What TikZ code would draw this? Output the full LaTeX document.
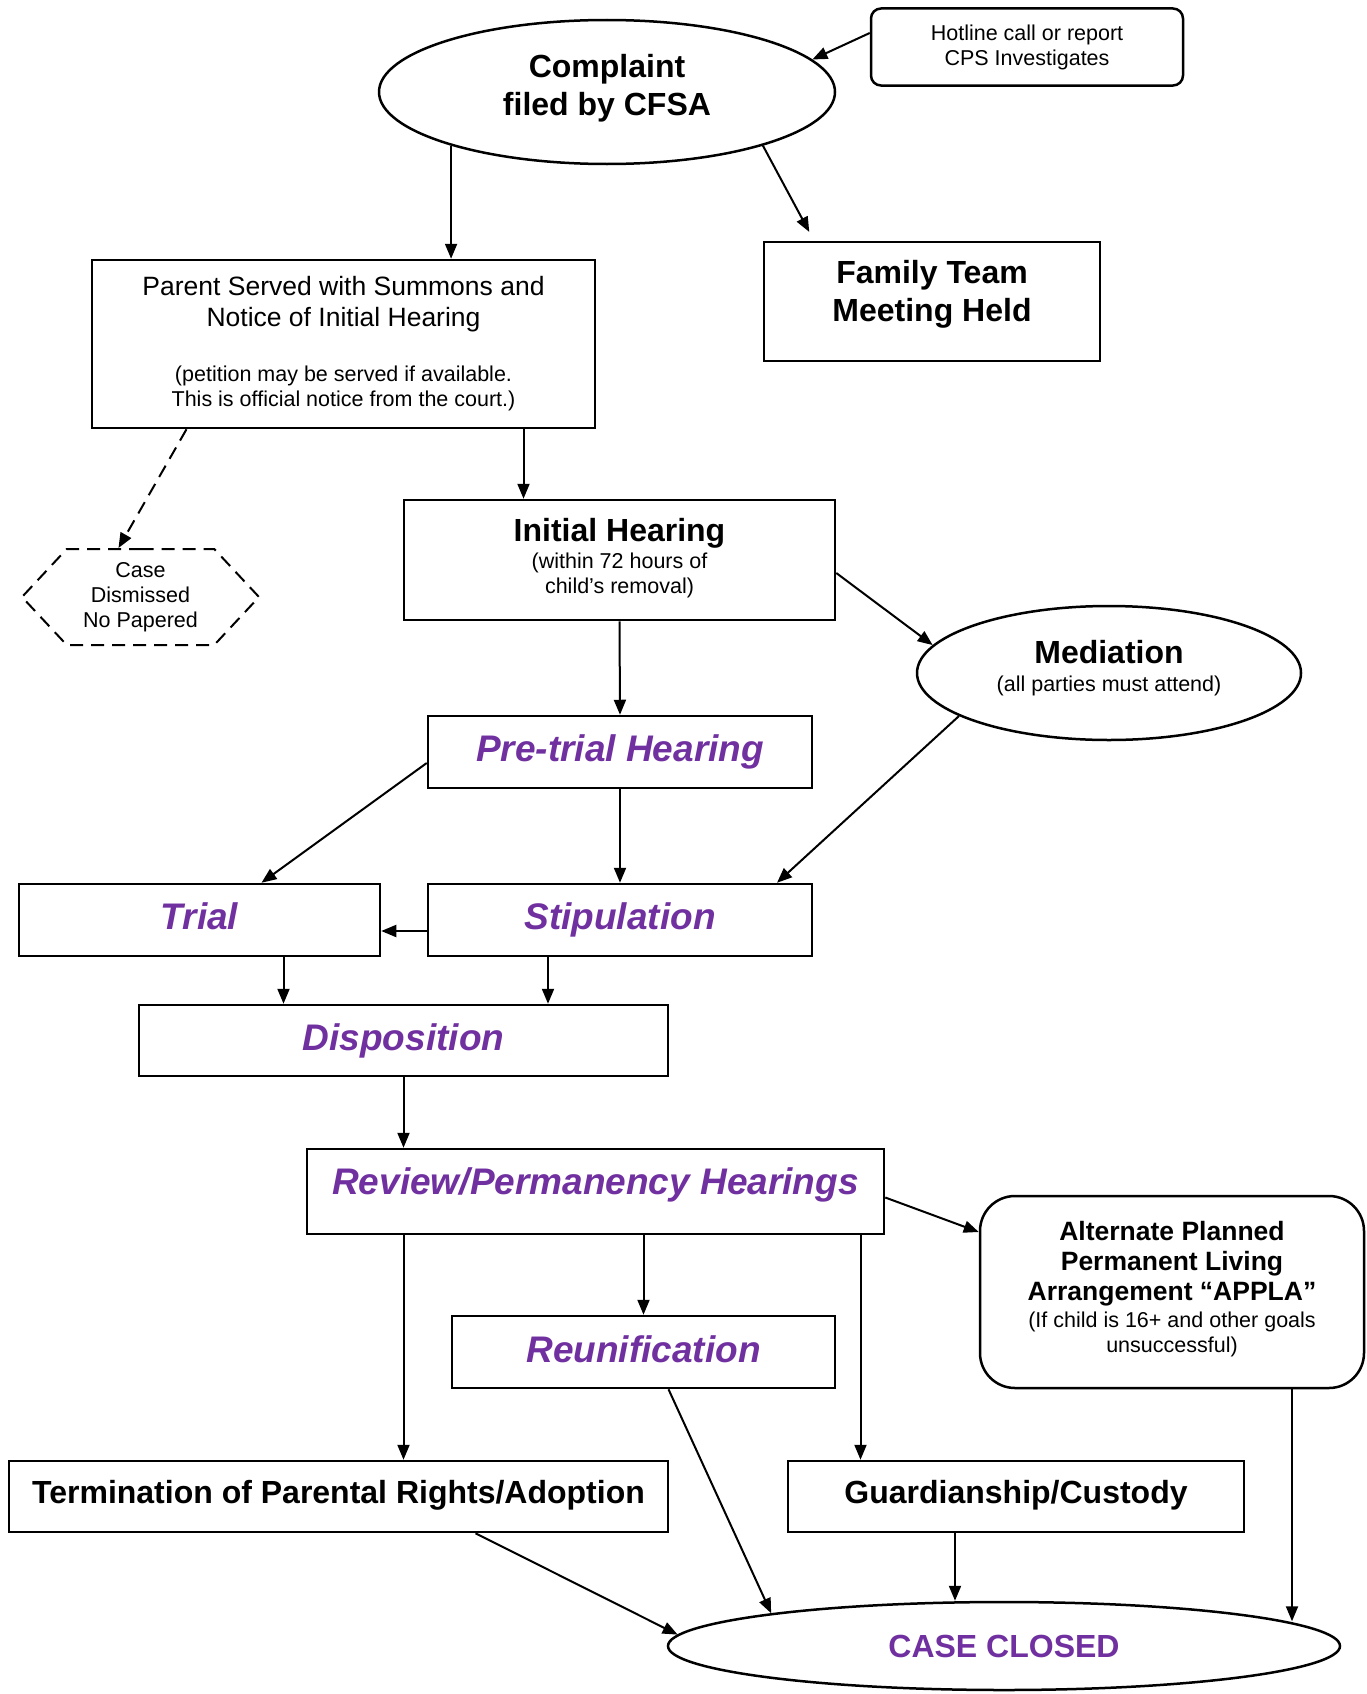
\documentclass[tikz,border=0pt]{standalone}
\usepackage{fontspec}
\setmainfont{Liberation Sans}
\usepackage{tikz}
\usetikzlibrary{positioning,arrows.meta,shapes.geometric,shapes.symbols,calc}
\usepackage{xcolor}
\definecolor{casepurple}{RGB}{112,48,160}

\begin{document}
\begin{tikzpicture}[x=1pt,y=-1pt,
  box/.style={rectangle,draw,line width=2.5pt,align=center,inner sep=0pt},
  oval/.style={ellipse,draw,line width=2.5pt,align=center,inner sep=0pt},
  stage/.style={box,minimum width=384pt,minimum height=72pt,text=casepurple,
    text height=30pt,text depth=11pt,font=\fontsize{37}{44}\selectfont\bfseries\itshape},
  arr/.style={-{Triangle[length=15pt,width=12pt]},line width=2pt}]
\useasboundingbox (0,0) rectangle (1367,1694);

\node[oval,minimum width=456pt,minimum height=144pt,text depth=14pt,
  font=\fontsize{32}{38}\selectfont\bfseries] (complaint) at (607,92) {Complaint\\filed by CFSA};
\node[box,rounded corners=10pt,minimum width=312pt,minimum height=77pt,
  font=\fontsize{21.5}{25}\selectfont] (hotline) at (1027,47) {Hotline call or report\\CPS Investigates};
\node[box,minimum width=336pt,minimum height=119pt,text depth=22pt,
  font=\fontsize{32}{38}\selectfont\bfseries] (family) at (932,301.5) {Family Team\\Meeting Held};
\node[box,minimum width=503pt,minimum height=168pt,
  font=\fontsize{26.5}{31}\selectfont] (parent) at (343.5,344) {Parent Served with Summons and\\Notice of Initial Hearing\\[24pt]
  {\fontsize{21.5}{25}\selectfont (petition may be served if available.}\\[-6pt]
  {\fontsize{21.5}{25}\selectfont This is official notice from the court.)}};
\node[shape=signal,signal to=east and west,signal pointer angle=94,draw,line width=2pt,
  dash pattern=on 13pt off 8pt,inner sep=0pt,minimum width=237pt,minimum height=96pt,
  align=center,font=\fontsize{21.5}{25}\selectfont] (dismissed) at (140.5,597) {Case\\Dismissed\\No Papered};
\node[box,minimum width=431pt,minimum height=120pt,text depth=9pt,
  font=\fontsize{21.5}{25}\selectfont] (initial) at (619.5,560) {{\fontsize{32}{38}\selectfont\bfseries Initial Hearing}\\[2pt](within 72 hours of\\child’s removal)};
\node[oval,minimum width=384pt,minimum height=134pt,text depth=15pt,
  font=\fontsize{21.5}{25}\selectfont] (mediation) at (1109,673) {{\fontsize{32}{38}\selectfont\bfseries Mediation}\\[3pt](all parties must attend)};

\node[stage] (pretrial) at (620,752) {Pre-trial Hearing};
\node[stage,minimum width=361pt] (trial) at (199.5,920) {Trial};
\node[stage] (stip) at (620,920) {Stipulation};
\node[stage,minimum width=529pt,minimum height=71pt] (dispo) at (403.5,1040.5) {Disposition};
\node[stage,minimum width=577pt,minimum height=85pt,text depth=23.5pt] (review) at (595.5,1191.5) {Review/Permanency Hearings};
\node[stage,minimum width=383pt,text depth=9pt] (reunif) at (643.5,1352) {Reunification};
\node[box,rounded corners=35pt,minimum width=384pt,minimum height=192pt,text depth=10pt,
  font=\fontsize{21.5}{25}\selectfont] (appla) at (1172,1292) {{\fontsize{26.5}{31}\selectfont\bfseries Alternate Planned}\\[5pt]
  {\fontsize{26.5}{31}\selectfont\bfseries Permanent Living}\\[5pt]
  {\fontsize{26.5}{31}\selectfont\bfseries Arrangement “APPLA”}\\[2pt]
  (If child is 16+ and other goals\\unsuccessful)};
\node[box,minimum width=659pt,minimum height=71pt,text depth=10pt,
  font=\fontsize{32}{38}\selectfont\bfseries] (tpr) at (338.5,1496.5) {Termination of Parental Rights/Adoption};
\node[box,minimum width=456pt,minimum height=71pt,text depth=10pt,
  font=\fontsize{32}{38}\selectfont\bfseries] (guard) at (1016,1496.5) {Guardianship/Custody};
\node[oval,minimum width=672pt,minimum height=88pt,text=casepurple,
  font=\fontsize{32}{38}\selectfont\bfseries] (closed) at (1004,1646) {CASE CLOSED};

% connectors
\draw[arr] ([yshift=14pt]hotline.west) -- (complaint.9);
\draw[arr] (complaint.199) -- (complaint.199 |- parent.north);
\draw[arr,shorten >=10pt] (complaint.341) -- ([xshift=-118pt]family.north);
\draw[arr,dash pattern=on 13pt off 8pt] ([xshift=-157pt]parent.south) -- ([xshift=-22pt]dismissed.north);
\draw[arr] ([xshift=180pt]parent.south) -- ([xshift=180pt]parent.south |- initial.north);
\draw[arr] (initial.south) -- (pretrial.north);
\draw[arr] ([yshift=-13pt]initial.east) -- (mediation.171);
\draw[arr] ([yshift=-11pt]pretrial.west) -- ([xshift=62pt]trial.north);
\draw[arr] (pretrial.south) -- (stip.north);
\draw[arr] (mediation.196) -- ([xshift=157pt]stip.north);
\draw[arr] ([yshift=-11pt]stip.west) -- ([yshift=-11pt]trial.east);
\draw[arr] ([xshift=84pt]trial.south) -- ([xshift=84pt]trial.south |- dispo.north);
\draw[arr] ([xshift=-72pt]stip.south) -- ([xshift=-72pt]stip.south |- dispo.north);
\draw[arr] (dispo.south) -- (dispo.south |- review.north);
\draw[arr] ([yshift=-6pt]review.east) -- ([yshift=60pt]appla.west);
\draw[arr] (reunif.north |- review.south) -- (reunif.north);
\draw[arr] ([xshift=-192pt]review.south) -- ([xshift=-192pt]review.south |- tpr.north);
\draw[arr] ([xshift=265pt]review.south) -- ([xshift=265pt]review.south |- guard.north);
\draw[arr] ([xshift=137pt]tpr.south) -- (closed.178);
\draw[arr] ([xshift=25pt]reunif.south) -- (closed.172);
\draw[arr] ([xshift=-61pt]guard.south) -- ([xshift=-61pt]guard.south |- closed.north);
\draw[arr] ([xshift=120pt]appla.south) -- ([xshift=120pt]appla.south |- closed.5);
\end{tikzpicture}
\end{document}
